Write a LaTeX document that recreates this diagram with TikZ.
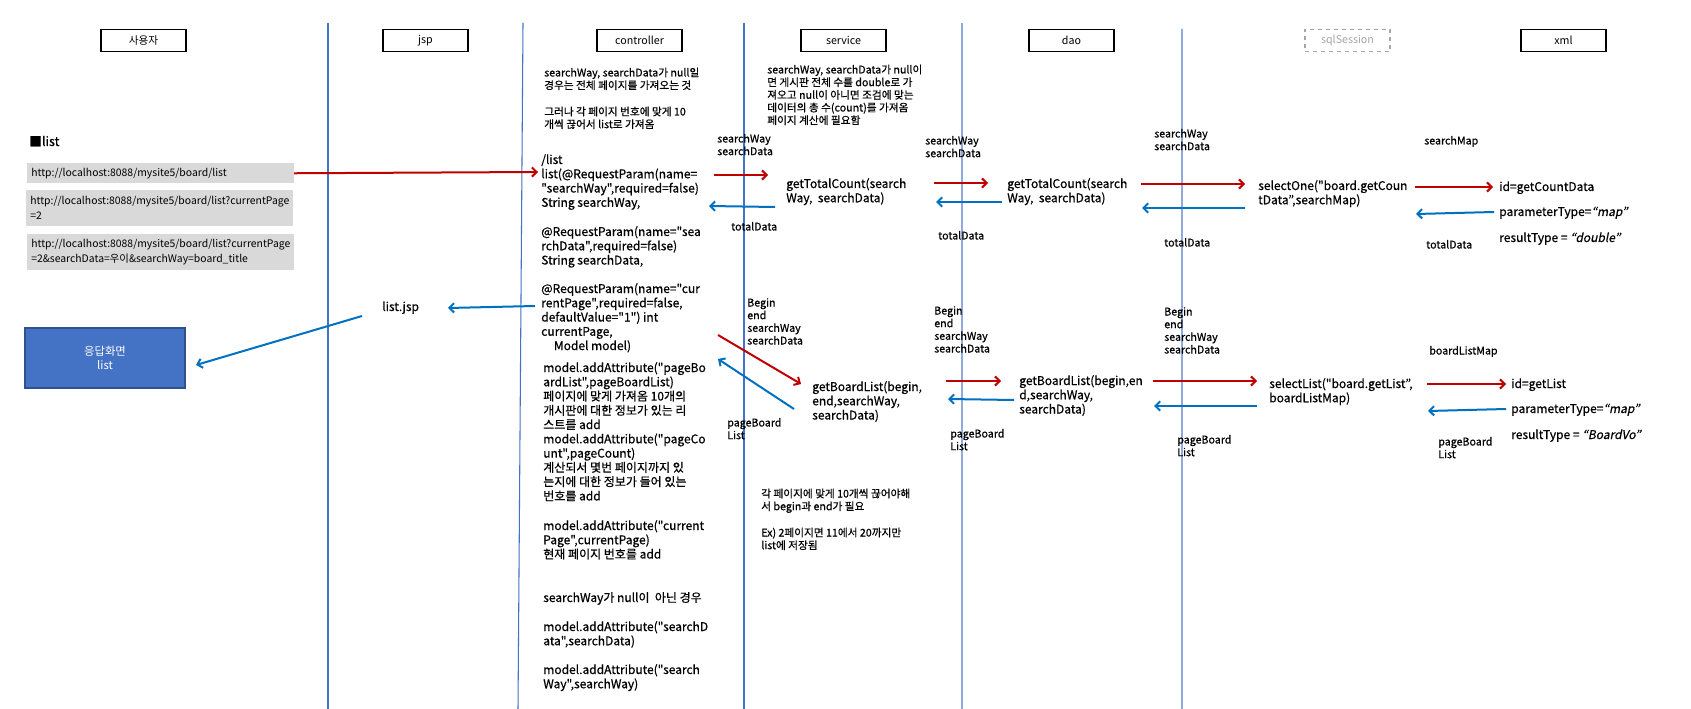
\documentclass[tikz,border=0pt]{standalone}
\usepackage{fontspec}
\setmainfont{Noto Sans CJK KR}
\newfontfamily\heavy[FakeBold=0.6]{Noto Sans CJK KR}
\newfontfamily\slfont[FakeSlant=0.2,FakeBold=0.6]{Noto Sans CJK KR}
\usetikzlibrary{arrows.meta}
\definecolor{laneblue}{HTML}{4472C4}
\definecolor{lanelight}{HTML}{8FAADC}
\definecolor{arrred}{HTML}{C00000}
\definecolor{arrblue}{HTML}{0070C0}
\definecolor{boxgray}{HTML}{D9D9D9}
\definecolor{respfill}{HTML}{4472C4}
\definecolor{respdraw}{HTML}{2F528F}
\definecolor{dashgray}{HTML}{A6A6A6}
\newcommand\mainfs{\heavy\fontsize{9}{10.7}\selectfont}
\newcommand\labfs{\heavy\fontsize{8}{9.5}\selectfont}
\newcommand\urlfs{\fontsize{7.8}{11.2}\selectfont}
\newcommand\hdrfs{\fontsize{8}{10}\selectfont}
\begin{document}
\begin{tikzpicture}[x=0.75pt,y=-0.75pt,
  lane/.style={draw=laneblue, line width=0.8pt},
  lanelt/.style={draw=lanelight, line width=0.9pt},
  hdr/.style={draw, line width=0.8pt, minimum width=63.75pt, minimum height=17pt, inner sep=0pt, font=\hdrfs},
  txt/.style={anchor=base west, inner sep=0pt, align=left, font=\mainfs},
  lab/.style={anchor=base west, inner sep=0pt, align=left, font=\labfs},
  ml/.style={yshift={-(#1-1)*10.7pt}},
  ll/.style={yshift={-(#1-1)*9.5pt}},
  urlbox/.style={anchor=north west, fill=boxgray, text width=194pt, inner xsep=3pt, inner ysep=0pt, align=left, font=\urlfs},
  redarr/.style={draw=arrred, line width=1.5pt, -{Straight Barb[length=3.5pt,width=7pt]}},
  bluearr/.style={draw=arrblue, line width=1.5pt, -{Straight Barb[length=3.5pt,width=7pt]}}
]
\useasboundingbox[fill=white] (0,0) rectangle (1691,709);

% lanes
\coordinate (l1t) at (328,23);  \coordinate (l1b) at (328,709);
\coordinate (l2t) at (523,23);  \coordinate (l2b) at (518,709);
\coordinate (l3t) at (744,23);  \coordinate (l3b) at (744,709);
\coordinate (l4t) at (962,23);  \coordinate (l4b) at (962,709);
\coordinate (l5t) at (1182,29); \coordinate (l5b) at (1182,709);
\draw[lane] (l1t) -- (l1b);
\draw[lane] (l2t) -- (l2b);
\draw[lane] (l3t) -- (l3b);
\draw[lanelt] (l4t) -- (l4b);
\draw[lanelt] (l5t) -- (l5b);

% headers
\node[hdr] (h1) at (143.5,40.5) {사용자};
\node[hdr] (h2) at (425.5,40.5) {jsp};
\node[hdr] (h3) at (639.5,40.5) {controller};
\node[hdr] (h4) at (843.5,40.5) {service};
\node[hdr] (h5) at (1071.5,40.5) {dao};
\node[hdr, draw=dashgray, dashed, text=dashgray] (h6) at (1347.5,40.5) {sqlSession};
\node[hdr] (h7) at (1563.5,40.5) {xml};

% user column
\node[txt, font=\heavy\fontsize{9.5}{11}\selectfont] (ttl) at (29,146) {■list};
\node[urlbox, minimum height=15pt] (u1) at (27,163) {http://localhost:8088/mysite5/board/list};
\node[urlbox, minimum height=27pt] (u2) at (26,190) {http://localhost:8088/mysite5/board/list?currentPage\\=2};
\node[urlbox, minimum height=27pt] (u3) at (27,234) {http://localhost:8088/mysite5/board/list?currentPage\\=2\&searchData=우이\&searchWay=board\_title};
\node[draw=respdraw, fill=respfill, line width=0.8pt, minimum width=120pt, minimum height=45pt, text=white, align=center, font=\fontsize{8.5}{10}\selectfont] (resp) at (105,358) {응답화면\\[1pt]list};

% jsp
\node[txt] (ljsp) at (382,311) {list.jsp};

% controller
\node[lab, ll=2] (cn1) at (544,76.5) {searchWay, searchData가 null일\\경우는 전체 페이지를 가져오는 것};
\node[lab, ll=2] (cn2) at (544,115.5) {그러나 각 페이지 번호에 맞게 10\\개씩 끊어서 list로 가져옴};
\node[txt, ml=4] (c1) at (541,164) {/list\\list(@RequestParam(name=\\"searchWay",required=false)\\String searchWay,};
\node[txt, ml=3] (c2) at (541,236) {@RequestParam(name="sea\\rchData",required=false)\\String searchData,};
\node[txt, ml=5] (c3) at (541,293) {@RequestParam(name="cur\\rentPage",required=false,\\defaultValue="1") int\\currentPage,\\\hspace*{9.5pt}Model model)};
\node[txt, ml=10] (c4) at (543,372) {model.addAttribute("pageBo\\ardList",pageBoardList)\\페이지에 맞게 가져옴 10개의\\개시판에 대한 정보가 있는 리\\스트를 add\\model.addAttribute("pageCo\\unt",pageCount)\\계산되서 몇번 페이지까지 있\\는지에 대한 정보가 들어 있는\\번호를 add};
\node[txt, ml=3] (c5) at (543,530) {model.addAttribute("current\\Page",currentPage)\\현재 페이지 번호를 add};
\node[txt] (c6) at (543,602) {searchWay가 null이 \ 아닌 경우};
\node[txt, ml=2] (c7) at (543,631) {model.addAttribute("searchD\\ata",searchData)};
\node[txt, ml=2] (c8) at (543,674) {model.addAttribute("search\\Way",searchWay)};

% service
\node[lab, ll=5] (sn1) at (767,73.5) {searchWay, searchData가 null이\\면 게시판 전체 수를 double로 가\\져오고 null이 아니면 조검에 맞는\\데이터의 총 수(count)를 가져옴\\페이지 계산에 필요함};
\node[lab, ll=2] (l1) at (717,142.5) {searchWay\\searchData};
\node[lab] (l2) at (731,230.5) {totalData};
\node[lab, ll=4] (l3) at (747,306.5) {Begin\\end\\searchWay\\searchData};
\node[lab, ll=2] (l4) at (727,426.5) {pageBoard\\List};
\node[txt, ml=2] (s1) at (786,188) {getTotalCount(search\\Way, \ searchData)};
\node[txt, ml=3] (s2) at (812,391) {getBoardList(begin,\\end,searchWay,\\searchData)};
\node[lab, ll=2] (sn2) at (761,497.5) {각 페이지에 맞게 10개씩 끊어야해\\서 begin과 end가 필요};
\node[lab, ll=2] (sn3) at (761,536.5) {Ex) 2페이지면 11에서 20까지만\\list에 저장됨};

% dao
\node[lab, ll=2] (l5) at (925,144.5) {searchWay\\searchData};
\node[lab] (l6) at (938,239.5) {totalData};
\node[lab, ll=4] (l7) at (934,314.5) {Begin\\end\\searchWay\\searchData};
\node[lab, ll=2] (l8) at (950,437.5) {pageBoard\\List};
\node[txt, ml=2] (d1) at (1007,188) {getTotalCount(search\\Way, \ searchData)};
\node[txt, ml=3] (d2) at (1019,385) {getBoardList(begin,en\\d,searchWay,\\searchData)};

% sqlSession
\node[lab, ll=2] (l9) at (1154,137.5) {searchWay\\searchData};
\node[lab] (l10) at (1164,246.5) {totalData};
\node[lab, ll=4] (l11) at (1164,315.5) {Begin\\end\\searchWay\\searchData};
\node[lab, ll=2] (l12) at (1177,443.5) {pageBoard\\List};
\node[txt, ml=2] (q1) at (1258,190) {selectOne("board.getCoun\\tData”,searchMap)};
\node[txt, ml=2] (q2) at (1269,388) {selectList("board.getList”,\\boardListMap)};

% xml
\node[lab] (l13) at (1424,144.5) {searchMap};
\node[lab] (l14) at (1426,248.5) {totalData};
\node[lab] (l15) at (1429,354.5) {boardListMap};
\node[lab, ll=2] (l16) at (1438,445.5) {pageBoard\\List};
\node[txt] (x1) at (1499,191) {id=getCountData};
\node[txt] (x2) at (1499,216) {parameterType={\slfont “map”}};
\node[txt] (x3) at (1499,242) {resultType = {\slfont “double”}};
\node[txt] (x4) at (1511,388) {id=getList};
\node[txt] (x5) at (1511,413) {parameterType={\slfont “map”}};
\node[txt] (x6) at (1511,439) {resultType = {\slfont “BoardVo”}};

% arrow end points
\coordinate (a1e) at (538,172);
\coordinate (a2s) at (714,175);  \coordinate (a2e) at (768,175);
\coordinate (a3s) at (775,207);  \coordinate (a3e) at (709,206);
\coordinate (a4s) at (934,183);  \coordinate (a4e) at (988,183);
\coordinate (a5s) at (1002,202); \coordinate (a5e) at (936,202);
\coordinate (a6s) at (1141,184); \coordinate (a6e) at (1245,184);
\coordinate (a7s) at (1245,208); \coordinate (a7e) at (1142,208);
\coordinate (a8s) at (1415,187); \coordinate (a8e) at (1493,187);
\coordinate (a9s) at (1494,212); \coordinate (a9e) at (1416,214);
\coordinate (a10s) at (718,335); \coordinate (a10e) at (801,384);
\coordinate (a11s) at (794,409); \coordinate (a11e) at (718,359);
\coordinate (a12s) at (946,381); \coordinate (a12e) at (1001,381);
\coordinate (a13s) at (1014,400); \coordinate (a13e) at (948,399);
\coordinate (a14s) at (1153,381); \coordinate (a14e) at (1257,381);
\coordinate (a15s) at (1257,406); \coordinate (a15e) at (1154,406);
\coordinate (a16s) at (1427,384); \coordinate (a16e) at (1506,384);
\coordinate (a17s) at (1506,409); \coordinate (a17e) at (1428,411);
\coordinate (a18s) at (535,306); \coordinate (a18e) at (448,308);
\coordinate (a19s) at (362,316); \coordinate (a19e) at (196,365);

\draw[redarr] (u1.east) -- (a1e);
\draw[redarr] (a2s) -- (a2e);
\draw[bluearr] (a3s) -- (a3e);
\draw[redarr] (a4s) -- (a4e);
\draw[bluearr] (a5s) -- (a5e);
\draw[redarr] (a6s) -- (a6e);
\draw[bluearr] (a7s) -- (a7e);
\draw[redarr] (a8s) -- (a8e);
\draw[bluearr] (a9s) -- (a9e);
\draw[redarr] (a10s) -- (a10e);
\draw[bluearr] (a11s) -- (a11e);
\draw[redarr] (a12s) -- (a12e);
\draw[bluearr] (a13s) -- (a13e);
\draw[redarr] (a14s) -- (a14e);
\draw[bluearr] (a15s) -- (a15e);
\draw[redarr] (a16s) -- (a16e);
\draw[bluearr] (a17s) -- (a17e);
\draw[bluearr] (a18s) -- (a18e);
\draw[bluearr] (a19s) -- (a19e);
\end{tikzpicture}
\end{document}
